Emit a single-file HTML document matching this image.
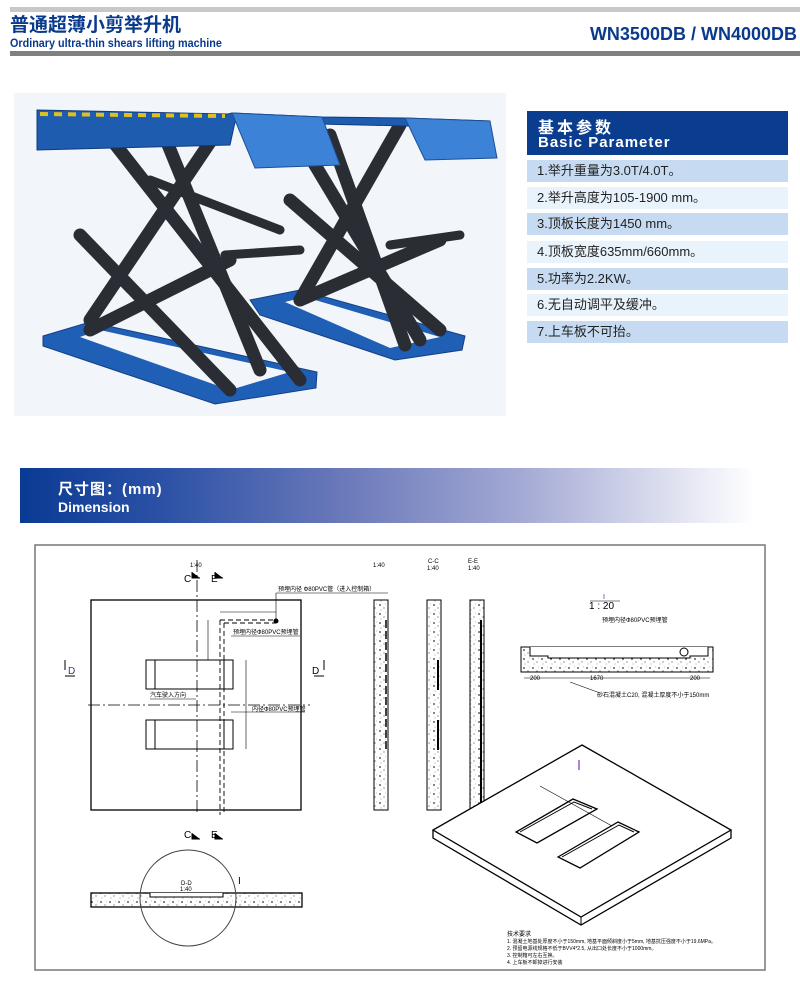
<!DOCTYPE html>
<html><head><meta charset="utf-8"><style>
body{margin:0;width:800px;height:990px;background:#fff;position:relative;overflow:hidden;font-family:"Liberation Sans","Noto Sans CJK SC",sans-serif}
.a{position:absolute}
.row{position:absolute;left:527px;width:261px;height:22px;font-size:13px;color:#222;line-height:22px;padding-left:10px;box-sizing:border-box}
</style></head><body>
<div class="a" style="left:10px;top:7px;width:790px;height:5px;background:#c8c8c8"></div>
<div class="a" style="left:10px;top:51px;width:790px;height:5px;background:#808080"></div>
<div class="a" style="left:10px;top:15px;font-size:19px;font-weight:bold;color:#0a3a8c;line-height:22px">普通超薄小剪举升机</div>
<div class="a" style="left:10px;top:36px;font-size:12px;font-weight:bold;color:#0a3a8c;line-height:14px;transform:scaleX(0.9);transform-origin:left">Ordinary ultra-thin shears lifting machine</div>
<div class="a" style="right:3px;top:24px;font-size:18px;font-weight:bold;color:#0a3a8c">WN3500DB / WN4000DB</div>

<svg class="a" style="left:14px;top:93px" width="492" height="323" viewBox="14 93 492 323">
<rect x="14" y="93" width="492" height="323" fill="#f2f6fb"/>
<g fill="#1f5fb5" stroke="#143f85" stroke-width="1">
<polygon points="43,336 90,322 317,372 316,388 215,404 43,346"/>
<polygon points="250,300 300,290 465,336 462,350 395,360 260,315"/>
</g>
<g fill="#f2f6fb"><polygon points="80,337 100,330 290,372 230,390"/><polygon points="285,302 305,297 440,337 390,348"/></g>
<g stroke="#2a2d33" stroke-width="13" stroke-linecap="round">
<line x1="100" y1="125" x2="300" y2="380"/>
<line x1="225" y1="120" x2="90" y2="320"/>
<line x1="160" y1="125" x2="260" y2="370"/>
<line x1="80" y1="235" x2="230" y2="390"/>
<line x1="230" y1="260" x2="90" y2="330"/>
<line x1="300" y1="140" x2="420" y2="340"/>
<line x1="400" y1="125" x2="300" y2="300"/>
<line x1="330" y1="135" x2="405" y2="345"/>
<line x1="290" y1="200" x2="440" y2="330"/>
<line x1="440" y1="240" x2="300" y2="300"/>
<line x1="150" y1="180" x2="280" y2="230" stroke-width="9"/>
<line x1="225" y1="255" x2="300" y2="250" stroke-width="9"/>
<line x1="390" y1="245" x2="460" y2="235" stroke-width="9"/>
</g>
<g fill="#1e5cb0" stroke="#123a7c" stroke-width="1">
<polygon points="37,110 228,114 232,113 322,117 405,118 490,121 490,128 235,122 230,145 37,150"/>
</g>
<g fill="#3c82d6" stroke="#1d4f96">
<polygon points="232,113 322,117 340,165 255,168"/>
<polygon points="405,118 490,121 497,158 425,160"/>
</g>
<line x1="40" y1="114" x2="225" y2="116" stroke="#e0c020" stroke-width="4" stroke-dasharray="8 6"/>
</svg>

<div class="a" style="left:527px;top:111px;width:261px;height:44px;background:#0b3d8f"></div>
<div class="a" style="left:538px;top:114px;color:#fff;font-size:16px;font-weight:bold;letter-spacing:3px">基本参数</div>
<div class="a" style="left:538px;top:134px;color:#fff;font-size:15px;font-weight:bold;letter-spacing:1px">Basic Parameter</div>
<div class="row" style="top:160px;background:#c6dbf1">1.举升重量为3.0T/4.0T。</div>
<div class="row" style="top:187px;background:#e9f3fc">2.举升高度为105-1900 mm。</div>
<div class="row" style="top:213px;background:#c6dbf1">3.顶板长度为1450 mm。</div>
<div class="row" style="top:241px;background:#e9f3fc">4.顶板宽度635mm/660mm。</div>
<div class="row" style="top:268px;background:#c6dbf1">5.功率为2.2KW。</div>
<div class="row" style="top:294px;background:#e9f3fc">6.无自动调平及缓冲。</div>
<div class="row" style="top:321px;background:#c6dbf1">7.上车板不可抬。</div>

<div class="a" style="left:20px;top:468px;width:735px;height:55px;background:linear-gradient(90deg,#0a3a94 0%,#2d52a6 20%,#6d7bbb 45%,#a3a9d4 68%,#fff 100%)"></div>
<div class="a" style="left:58px;top:478px;color:#fff;font-size:15px;font-weight:bold;letter-spacing:1px">尺寸图：(mm)</div>
<div class="a" style="left:58px;top:499px;color:#fff;font-size:14px;font-weight:bold">Dimension</div>

<svg class="a" style="left:0;top:0" width="800" height="990" font-family="Liberation Sans,Noto Sans CJK SC,sans-serif">
<defs><pattern id="sp" width="9" height="9" patternUnits="userSpaceOnUse">
<rect width="9" height="9" fill="#fff"/><circle cx="2" cy="2" r="0.9" fill="#333"/><circle cx="6" cy="5" r="0.6" fill="#555"/><circle cx="3" cy="7" r="0.5" fill="#777"/><circle cx="7.5" cy="1" r="0.4" fill="#777"/></pattern></defs>
<rect x="35" y="545" width="730" height="425" fill="none" stroke="#777" stroke-width="1.5"/>
<g fill="none" stroke="#000">
<rect x="91" y="600" width="210" height="210" stroke-width="1.3"/>
<line x1="197" y1="560" x2="197" y2="815" stroke-dasharray="12 3 2 3" stroke-width="0.8"/>
<line x1="88" y1="705" x2="310" y2="705" stroke-dasharray="12 3 2 3" stroke-width="0.8"/>
<rect x="146" y="660" width="87" height="29"/><line x1="155" y1="660" x2="155" y2="689"/><line x1="224" y1="660" x2="224" y2="689"/>
<rect x="146" y="720" width="87" height="29"/><line x1="155" y1="720" x2="155" y2="749"/><line x1="224" y1="720" x2="224" y2="749"/>
<g stroke-dasharray="5 3" stroke-width="0.9">
<line x1="220" y1="620" x2="220" y2="815"/><line x1="224" y1="623" x2="224" y2="815"/>
<line x1="220" y1="620" x2="276" y2="620"/><line x1="224" y1="623" x2="276" y2="623"/>
</g>
<g stroke-width="0.6">
<line x1="220" y1="612" x2="276" y2="612"/><line x1="208" y1="620" x2="208" y2="660"/>
<line x1="246" y1="660" x2="246" y2="749"/><line x1="276" y1="621" x2="276" y2="593"/><line x1="276" y1="593" x2="388" y2="593"/>
<line x1="231" y1="636" x2="300" y2="636"/><line x1="231" y1="712" x2="305" y2="712"/>
<line x1="150" y1="699" x2="196" y2="699"/>
</g>
<rect x="374" y="600" width="14" height="210" fill="url(#sp)"/>
<rect x="427" y="600" width="14" height="210" fill="url(#sp)"/>
<rect x="470" y="600" width="14" height="210" fill="url(#sp)"/>
<line x1="386" y1="620" x2="386" y2="750" stroke-dasharray="8 3" stroke-width="1.5"/>
<line x1="438" y1="660" x2="438" y2="690" stroke-width="2"/><line x1="438" y1="720" x2="438" y2="750" stroke-width="2"/>
<line x1="481" y1="620" x2="481" y2="805" stroke-width="2"/>
<rect x="521" y="647" width="192" height="25" fill="url(#sp)"/>
<polyline points="530,647 530,656 548,656 548,658 690,658 690,656 708,656 708,647" fill="#fff"/>
<circle cx="684" cy="652" r="4" fill="#fff"/>
<line x1="570" y1="682" x2="600" y2="693" stroke-width="0.6"/>
<line x1="524" y1="678" x2="710" y2="678" stroke-width="0.6"/>
<polygon points="582,745 731,830 581,917 433,830" stroke-width="1.3" fill="#fff"/>
<polyline points="433,830 433,838 581,925 731,838 731,830" stroke-width="1.3"/>
<line x1="581" y1="917" x2="581" y2="925"/>
<polygon points="516,832 573,799 597,809 537,843" stroke-width="1.3"/>
<polyline points="520,832 574,802 592,809" stroke-width="1"/>
<polygon points="558,857 618,822 639,832 580,868" stroke-width="1.3"/>
<polyline points="562,857 619,825 634,832" stroke-width="1"/>
<line x1="540" y1="786" x2="612" y2="826" stroke-width="0.6"/>
<rect x="91" y="893" width="211" height="14" stroke-width="1.3" fill="url(#sp)"/>
<polyline points="150,893 150,897 223,897 223,893" fill="#fff"/>
<circle cx="188" cy="898" r="48" stroke="#444"/>
</g>
<circle cx="276" cy="621" r="2.5"/>
<g font-size="10"><text x="184" y="582">C</text><text x="211" y="582">E</text>
<text x="184" y="838">C</text><text x="211" y="838">E</text>
<text x="68" y="674" fill="#4b2a8a">D</text><text x="312" y="674">D</text>
<text x="238" y="884">I</text></g>
<g stroke="#000" stroke-width="1"><path d="M192 572v6h8M215 572v6h8M192 833v6h8M215 833v6h8M65 670v-10M65 676h10M324 670v-10M314 676h10"/></g>
<g font-size="6" fill="#000">
<text x="190" y="567">1:40</text><text x="373" y="567">1:40</text>
<text x="428" y="563">C-C</text><text x="427" y="570">1:40</text>
<text x="468" y="563">E-E</text><text x="468" y="570">1:40</text>
<text x="181" y="885">D-D</text><text x="180" y="891">1:40</text>
<text x="278" y="591">预埋内径 Ф80PVC管（进入控制箱）</text>
<text x="233" y="634">预埋内径Ф80PVC预埋管</text>
<text x="252" y="711">内径Ф80PVC预埋管</text>
<text x="150" y="697">汽车驶入方向</text>
<text x="602" y="622">预埋内径Ф80PVC预埋管</text>
<text x="597" y="697">砂石混凝土C20, 混凝土厚度不小于150mm</text>
<text x="530" y="680">200</text><text x="590" y="680">1670</text><text x="690" y="680">200</text>
<text x="507" y="936">技术要求</text>
<text x="507" y="943" font-size="5">1. 混凝土地基处厚度不小于150mm, 地基平面倾斜度小于5mm, 地基抗压强度不小于19.6MPa。</text>
<text x="507" y="950" font-size="5">2. 预留电源线规格不低于BVV4*2.5, 从出口处长度不小于1000mm。</text>
<text x="507" y="957" font-size="5">3. 控制箱可左右互换。</text>
<text x="507" y="964" font-size="5">4. 上车板不卸掉进行安装</text>
</g>
<text x="589" y="609" font-size="10">1 : 20</text>
<line x1="590" y1="601" x2="620" y2="601" stroke="#000" stroke-width="0.6"/>
<text x="603" y="599" font-size="7" fill="#4b2a8a">I</text>
<line x1="579" y1="760" x2="579" y2="770" stroke="#8a5cc8" stroke-width="1.5"/>
</svg>
</body></html>
